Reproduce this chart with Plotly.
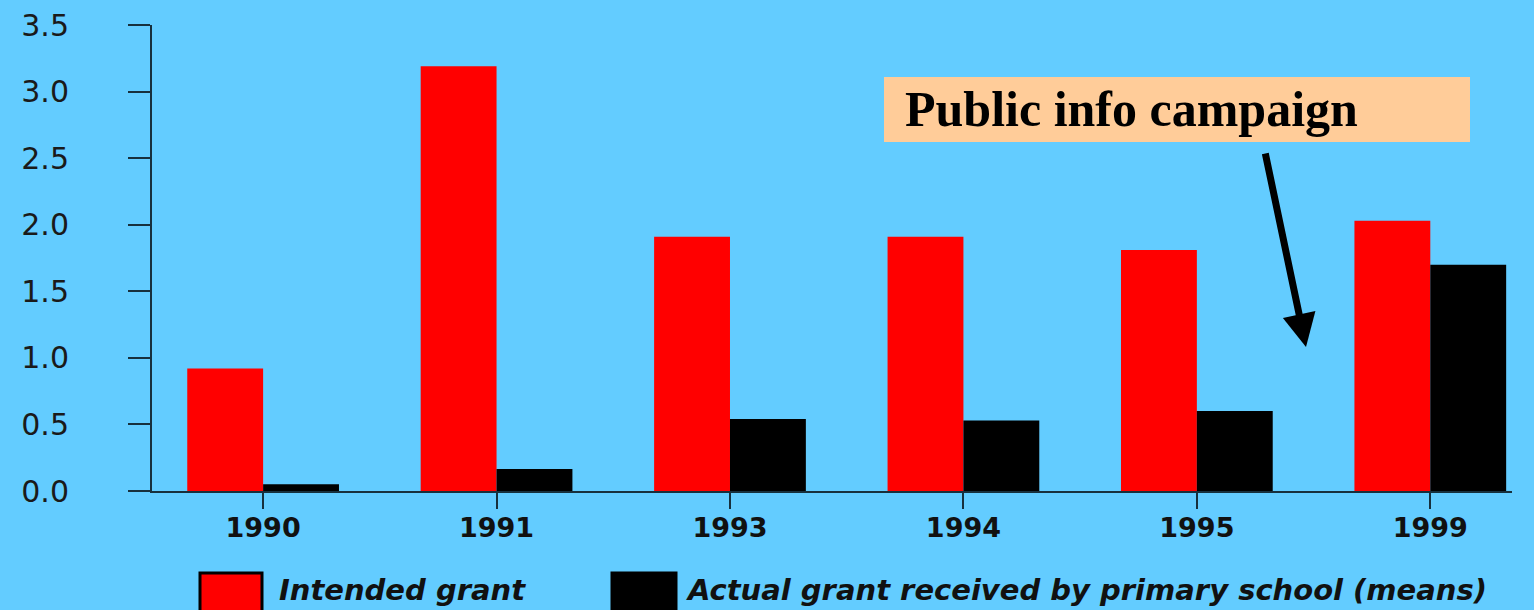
import plotly.graph_objects as go

# ---- data ----
years = ["1990", "1991", "1993", "1994", "1995", "1999"]
intended_grant = [0.92, 3.19, 1.91, 1.91, 1.81, 2.03]
actual_grant = [0.05, 0.165, 0.54, 0.53, 0.60, 1.70]
series_names = ["Intended grant", "Actual grant received by primary school (means)"]
series_colors = ["#FF0000", "#000000"]
y_ticks = [0, 0.5, 1.0, 1.5, 2.0, 2.5, 3.0, 3.5]
note_text = "Public info campaign"

BG = "#63CCFF"
AX = "#17303d"

# plot area in pixels
W, H = 1534, 610
L, R, T, B = 152, 22, 25, 119
PW, PH = W - L - R, H - T - B


def px(x):
    return (x - L) / PW


def py(y):
    return (H - B - y) / PH


fig = go.Figure()
for name, vals, col in zip(series_names, [intended_grant, actual_grant], series_colors):
    fig.add_trace(go.Bar(x=years, y=vals, name=name, marker=dict(color=col, line=dict(width=0)),
                         showlegend=False))

fig.update_layout(
    width=W, height=H,
    margin=dict(l=L, r=R, t=T, b=B, pad=0, autoexpand=False),
    paper_bgcolor=BG, plot_bgcolor=BG,
    barmode="group", bargap=0.35, bargroupgap=0,
    font=dict(family="Liberation Sans, Arial, sans-serif", color="#1a1a1a"),
    xaxis=dict(
        type="category", range=[-0.476, 5.35], automargin=False,
        showline=True, linecolor=AX, linewidth=2,
        ticks="outside", ticklen=16, tickwidth=2, tickcolor=AX,
        ticklabelstandoff=-4,
        tickfont=dict(family="DejaVu Sans, sans-serif", size=27, weight="bold", color="#111"),
        showgrid=False, zeroline=False, fixedrange=True,
    ),
    yaxis=dict(
        range=[0, 3.5], tickvals=y_ticks, tickformat=".1f", automargin=False,
        showline=True, linecolor=AX, linewidth=2,
        ticks="outside", ticklen=22, tickwidth=2, tickcolor=AX,
        ticklabelstandoff=53,
        tickfont=dict(family="DejaVu Sans, sans-serif", size=30, color="#1a1a1a"),
        showgrid=False, zeroline=False, fixedrange=True,
    ),
)

# annotation box + text + arrow
fig.add_shape(type="rect", xref="paper", yref="paper",
              x0=px(884), x1=px(1470), y0=py(142), y1=py(77),
              fillcolor="#FFCC99", line=dict(width=0), layer="above")
fig.add_annotation(xref="paper", yref="paper", x=px(903), y=py(109),
                   xanchor="left", yanchor="middle", showarrow=False,
                   text="<b>" + note_text + "</b>",
                   font=dict(family="Liberation Serif, Times New Roman, serif", size=50, color="#000"))
fig.add_annotation(xref="paper", yref="paper", x=px(1306), y=py(347),
                   axref="pixel", ayref="pixel", ax=-41, ay=-195,
                   showarrow=True, arrowhead=2, arrowsize=0.95, arrowwidth=7,
                   arrowcolor="#000", text="")

# manual legend
leg_x = [(200, 262, 277), (612, 676, 684)]
for (x0, x1, xt), name, col in zip(leg_x, series_names, series_colors):
    fig.add_shape(type="rect", xref="paper", yref="paper",
                  x0=px(x0), x1=px(x1), y0=py(615), y1=py(573),
                  fillcolor=col, line=dict(color="#000", width=3))
    fig.add_annotation(xref="paper", yref="paper", x=px(xt), y=py(590),
                       xanchor="left", yanchor="middle", showarrow=False,
                       text="<b><i>" + name + "</i></b>",
                       font=dict(family="DejaVu Sans, sans-serif", size=29, color="#111"))

fig.write_html("out.html", config={"displayModeBar": False},
               post_script="document.body.style.margin='0';document.body.style.overflow='hidden';")
